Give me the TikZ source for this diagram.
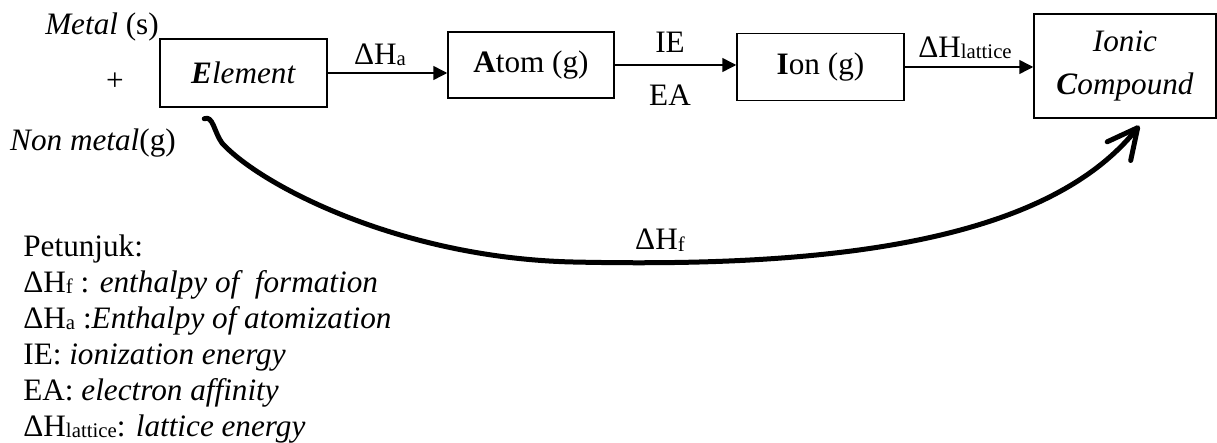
\documentclass[tikz,border=0pt]{standalone}
\usepackage{fontspec}
\setmainfont{Liberation Serif}
\usetikzlibrary{arrows.meta,calc}
\newcommand{\hsub}[1]{\raisebox{-0.05em}{\fontsize{10.4}{12}\selectfont #1}}

\begin{document}
\begin{tikzpicture}[x=0.5pt, y=-0.5pt,
    font=\fontsize{15.6}{18}\selectfont,
    box/.style={draw, line width=0.75pt, inner sep=0pt},
    flow/.style={line width=0.75pt, -{Triangle[length=7pt,width=7pt]}},
    lbl/.style={inner sep=0pt},
    fcurve/.style={line width=2.5pt, line cap=round, line join=round,
      -{Straight Barb[length=15pt,width=15pt,round]}}]
  \useasboundingbox (0,0) rectangle (1217,443);
  % reactants
  \node[lbl] (metal) at (102,27) {\textit{Metal} (s)};
  \node[lbl] (plus) at (115,82) {+};
  \node[lbl] (nonmetal) at (93,143) {\textit{Non metal}(g)};
  % stages
  \node[box, minimum width=83.5pt, minimum height=34pt] (elem) at (243.5,73)
    {\textbf{\textit{E}}\textit{lement}};
  \node[box, minimum width=83pt, minimum height=33pt] (atom) at (531,65)
    {\textbf{A}tom (g)};
  \node[box, minimum width=83.5pt, minimum height=33.5pt] (ion) at (820.5,67)
    {\textbf{I}on (g)};
  \node[box, minimum width=91pt, minimum height=52pt, align=center,
    font=\fontsize{15.6}{21.5}\selectfont] (ionic) at (1125,66)
    {\textit{Ionic}\\\textbf{\textit{C}}\textit{ompound}};
  % steps
  \draw[flow] (elem.east) -- (elem.east -| atom.west);
  \draw[flow] (atom.east) -- (atom.east -| ion.west);
  \draw[flow] (ion.east) -- (ion.east -| ionic.west);
  \node[lbl] (dha) at (380,55) {ΔH\hsub{a}};
  \node[lbl] (ie) at (670,42) {IE};
  \node[lbl] (ea) at (670,95) {EA};
  \node[lbl] (dhl) at (965,48) {ΔH\hsub{lattice}};
  % direct route
  \coordinate (fstart) at ($(elem.south west)+(45,11)$);
  \coordinate (fend) at ($(ionic.south west)+(106,7)$);
  \draw[fcurve] (fstart) .. controls (213,115) and (214,132) .. (222,143)
    .. controls (260,185) and (400,258) .. (573,262)
    .. controls (800,267) and (1040,250) .. (fend);
  \node[lbl] (dhf) at (660,240) {ΔH\hsub{f}};
  % legend
  \node[lbl, anchor=north west, align=left] (legend) at (23,234)
    {Petunjuk:\\
     ΔH\hsub{f} : \textit{enthalpy of\ \ formation}\\
     ΔH\hsub{a} :\textit{Enthalpy of atomization}\\
     IE: \textit{ionization energy}\\
     EA: \textit{electron affinity}\\
     ΔH\hsub{lattice}: \textit{lattice energy}};
\end{tikzpicture}
\end{document}
